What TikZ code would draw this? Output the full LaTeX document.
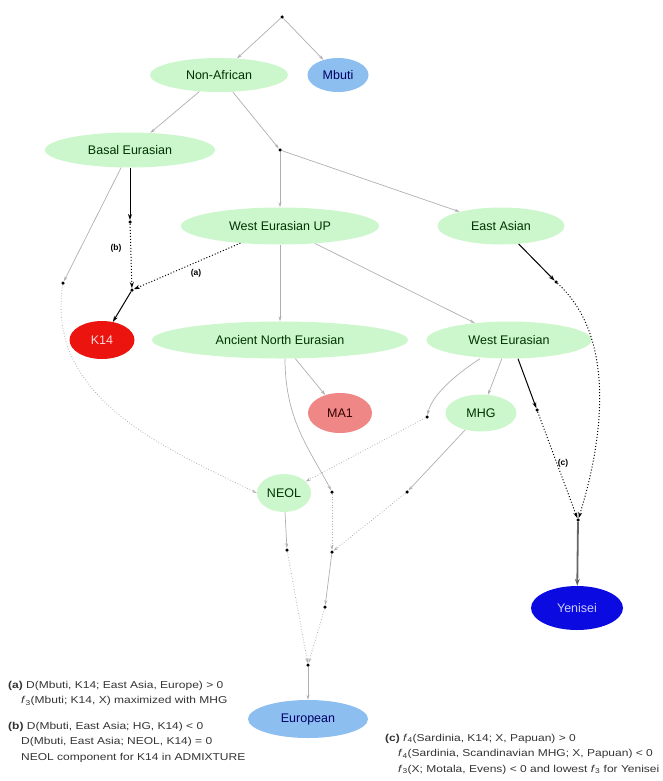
\documentclass[tikz,border=0pt]{standalone}
\usepackage{fontspec}
\setmainfont{Liberation Sans}
\newfontfamily\notefont[FakeStretch=1.2]{Liberation Sans}
\usetikzlibrary{shapes.geometric,arrows.meta}
\definecolor{ngreen}{RGB}{204,246,204}
\definecolor{nblue}{RGB}{140,190,240}
\definecolor{nred}{RGB}{235,20,15}
\definecolor{npink}{RGB}{240,135,135}
\definecolor{ndblue}{RGB}{10,10,225}
\definecolor{egray}{RGB}{175,175,175}
\tikzset{
  pop/.style={ellipse,inner sep=0pt,font=\fontsize{12.5}{13}\selectfont},
  grn/.style={pop,fill=ngreen,text=black!80!green},
  dotnode/.style={circle,fill=black,inner sep=0pt,minimum size=3.5pt},
  ge/.style={draw=egray,line width=0.7pt,-{Stealth[length=5pt,width=3pt]}},
  ged/.style={ge,dotted,line width=0.9pt},
  be/.style={draw=black,line width=1pt,-{Stealth[length=6pt,width=4pt]}},
  bed/.style={be,dotted,line width=1pt},
  lbl/.style={font=\bfseries\fontsize{8.5}{9}\selectfont},
  note/.style={font=\notefont\fontsize{10}{15.5}\selectfont,text=black!80,align=left,anchor=north west,inner sep=0pt}
}
\newcommand{\fsub}[1]{\textit{f}\textsubscript{#1}}
\begin{document}
\begin{tikzpicture}[x=1pt,y=-1pt]
\useasboundingbox (0,0) rectangle (662,781);
% nodes
\node[dotnode] (top) at (282,17) {};
\node[grn,minimum width=138pt,minimum height=34pt] (na) at (219,75) {Non-African};
\node[pop,fill=nblue,text=blue!40!black,minimum width=61pt,minimum height=34pt] (mb) at (338,75) {Mbuti};
\node[grn,minimum width=170pt,minimum height=35pt] (be) at (130,150) {Basal Eurasian};
\node[dotnode] (d1) at (280,150) {};
\node[grn,minimum width=198pt,minimum height=37pt] (weup) at (280,226) {West Eurasian UP};
\node[grn,minimum width=127pt,minimum height=37pt] (ea) at (501,226) {East Asian};
\node[dotnode] (db1) at (130,222) {};
\node[dotnode] (db2) at (132,290) {};
\node[dotnode] (dl) at (63,283) {};
\node[dotnode] (dea) at (556,282) {};
\node[pop,fill=nred,text=white!85!red,minimum width=65pt,minimum height=38pt] (k14) at (102,340) {K14};
\node[grn,minimum width=256pt,minimum height=37pt] (ane) at (280,340) {Ancient North Eurasian};
\node[grn,minimum width=165pt,minimum height=37pt] (we) at (509,340) {West Eurasian};
\node[pop,fill=npink,text=black!80!red,minimum width=64pt,minimum height=40pt] (ma1) at (340,413) {MA1};
\node[grn,minimum width=71pt,minimum height=37pt] (mhg) at (481,413) {MHG};
\node[dotnode] (dwe) at (427,417) {};
\node[dotnode] (dwe2) at (537,410) {};
\node[grn,minimum width=54pt,minimum height=38pt] (neol) at (284,493) {NEOL};
\node[dotnode] (dane) at (332,492) {};
\node[dotnode] (dmhg) at (407,492) {};
\node[dotnode] (dj) at (578,520) {};
\node[dotnode] (dn) at (287,550) {};
\node[dotnode] (dm) at (332,552) {};
\node[dotnode] (dm2) at (325,607) {};
\node[dotnode] (de) at (308,665) {};
\node[pop,fill=ndblue,text=white!80!blue,minimum width=92pt,minimum height=44pt] (yen) at (577,608) {Yenisei};
\node[pop,fill=nblue,text=blue!40!black,minimum width=120pt,minimum height=38pt] (eu) at (308,719) {European};
% edges
\draw[ge] (top) -- (na);
\draw[ge] (top) -- (mb);
\draw[ge] (na) -- (be);
\draw[ge] (na) -- (d1);
\draw[ge] (d1) -- (weup);
\draw[ge] (d1) -- (ea);
\draw[ge] (weup) -- (ane);
\draw[ge] (weup) -- (we);
\draw[be] (be.south -| db1) -- (db1);
\draw[bed] (db1) -- (db2);
\draw[bed] (weup) -- (db2);
\draw[be] (db2) -- (k14);
\draw[ge] (be) -- (dl);
\draw[ged] (dl) .. controls (45,400) and (170,450) .. (neol.west);
\draw[be] (ea) -- (dea);
\draw[bed] (dea) .. controls (620,340) and (600,450) .. (dj);
\draw[be] (we.south -| 518,0) -- (dwe2);
\draw[bed] (dwe2) -- (dj);
\draw[draw=black!60,line width=1.8pt,-{Stealth[length=7pt,width=5pt]}] (dj) -- (yen);
\draw[ge] (ane) -- (ma1);
\draw[ge] (we) -- (mhg);
\draw[ge] (we.south -| 480,0) .. controls (455,375) and (432,395) .. (dwe);
\draw[ged] (dwe) -- (neol);
\draw[ge] (ane.south -| 285,0) .. controls (285,420) and (310,450) .. (dane);
\draw[ge] (mhg) -- (dmhg);
\draw[ge] (neol) -- (dn);
\draw[ged] (dane) -- (dm);
\draw[ged] (dmhg) -- (dm);
\draw[ge] (dm) -- (dm2);
\draw[ged] (dn) -- (de);
\draw[ged] (dm2) -- (de);
\draw[ge] (de) -- (eu);
% labels
\node[lbl] (la) at (196,273) {(a)};
\node[lbl] (lb) at (116,248) {(b)};
\node[lbl] (lc) at (563,463) {(c)};
% notes
\node[note] (na1) at (8,681) {\textbf{(a)} D(Mbuti, K14; East Asia, Europe) > 0\\
\hspace*{13pt}\fsub{3}(Mbuti; K14, X) maximized with MHG};
\node[note] (nb1) at (8,722) {\textbf{(b)} D(Mbuti, East Asia; HG, K14) < 0\\
\hspace*{13pt}D(Mbuti, East Asia; NEOL, K14) = 0\\
\hspace*{13pt}NEOL component for K14 in ADMIXTURE};
\node[note] (nc1) at (385,734) {\textbf{(c)} \fsub{4}(Sardinia, K14; X, Papuan) > 0\\
\hspace*{13pt}\fsub{4}(Sardinia, Scandinavian MHG; X, Papuan) < 0\\
\hspace*{13pt}\fsub{3}(X; Motala, Evens) < 0 and lowest \fsub{3} for Yenisei};
\end{tikzpicture}
\end{document}
